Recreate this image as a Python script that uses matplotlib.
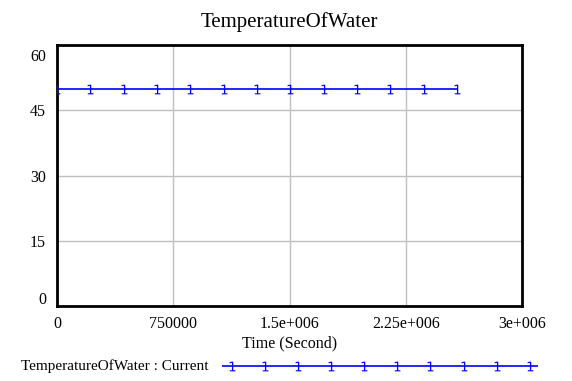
# TemperatureOfWater 仿真结果图
import matplotlib
matplotlib.use('Agg')
import matplotlib.pyplot as plt
import matplotlib.transforms as mtransforms
import numpy as np

plt.rcParams['font.family'] = ['Liberation Serif', 'DejaVu Serif']

title = 'TemperatureOfWater'
series_name = 'TemperatureOfWater : Current'
time_s = [0, 215000, 430000, 645000, 860000, 1075000, 1290000, 1505000,
          1720000, 1935000, 2150000, 2365000, 2580000]
temperature = [50, 50, 50, 50, 50, 50, 50, 50, 50, 50, 50, 50, 50]
x_ticks = [0, 750000, 1500000, 2250000, 3000000]
x_tick_labels = ['0', '750000', '1.5e+006', '2.25e+006', '3e+006']
y_ticks = [0, 15, 30, 45, 60]
y_tick_labels = ['0', '15', '30', '45', '60']

blue = '#0000ff'

fig = plt.figure(figsize=(5.72, 3.81), dpi=100)
ax = fig.add_axes([57/572, 1 - 306/381, 465/572, 261/381])

ax.plot(time_s, temperature, color=blue, lw=1.2, marker='$1$',
        markersize=7, markeredgewidth=0, zorder=3)

ax.set_xlim(0, 3000000)
ax.set_ylim(0, 60)
ax.set_xticks(x_ticks)
ax.set_xticklabels(x_tick_labels, fontsize=11.5)
ax.set_yticks(y_ticks)
ax.set_yticklabels(y_tick_labels, fontsize=11.5)
ax.tick_params(length=0, pad=8)
ax.tick_params(axis='x', pad=7)
labs = ax.get_yticklabels()
labs[0].set_transform(labs[0].get_transform() +
                      mtransforms.ScaledTranslation(0, 8/100, fig.dpi_scale_trans))
labs[-1].set_transform(labs[-1].get_transform() +
                       mtransforms.ScaledTranslation(0, -10/100, fig.dpi_scale_trans))
ax.grid(True, color='#c0c0c0', lw=1)
ax.set_axisbelow(True)
for s in ax.spines.values():
    s.set_linewidth(2)
    s.set_color('black')
ax.set_xlabel('Time (Second)', fontsize=11.5, labelpad=3)
ax.set_title(title, fontsize=15, pad=13)

# 图例
fig.text(21/572, 1 - 366/381, series_name, fontsize=11, va='center', ha='left')
lax = fig.add_axes([222/572, 1 - 372/381, 316/572, 12/381])
legend_x = np.arange(10)
lax.plot([-0.3, 9.25], [0, 0], color=blue, lw=1.2)
lax.plot(legend_x, np.zeros(10), color=blue, lw=0, marker='$1$',
         markersize=7, markeredgewidth=0)
lax.set_xlim(-0.3, 9.25)
lax.set_ylim(-1, 1)
lax.axis('off')

fig.savefig('out.png', dpi=100)
